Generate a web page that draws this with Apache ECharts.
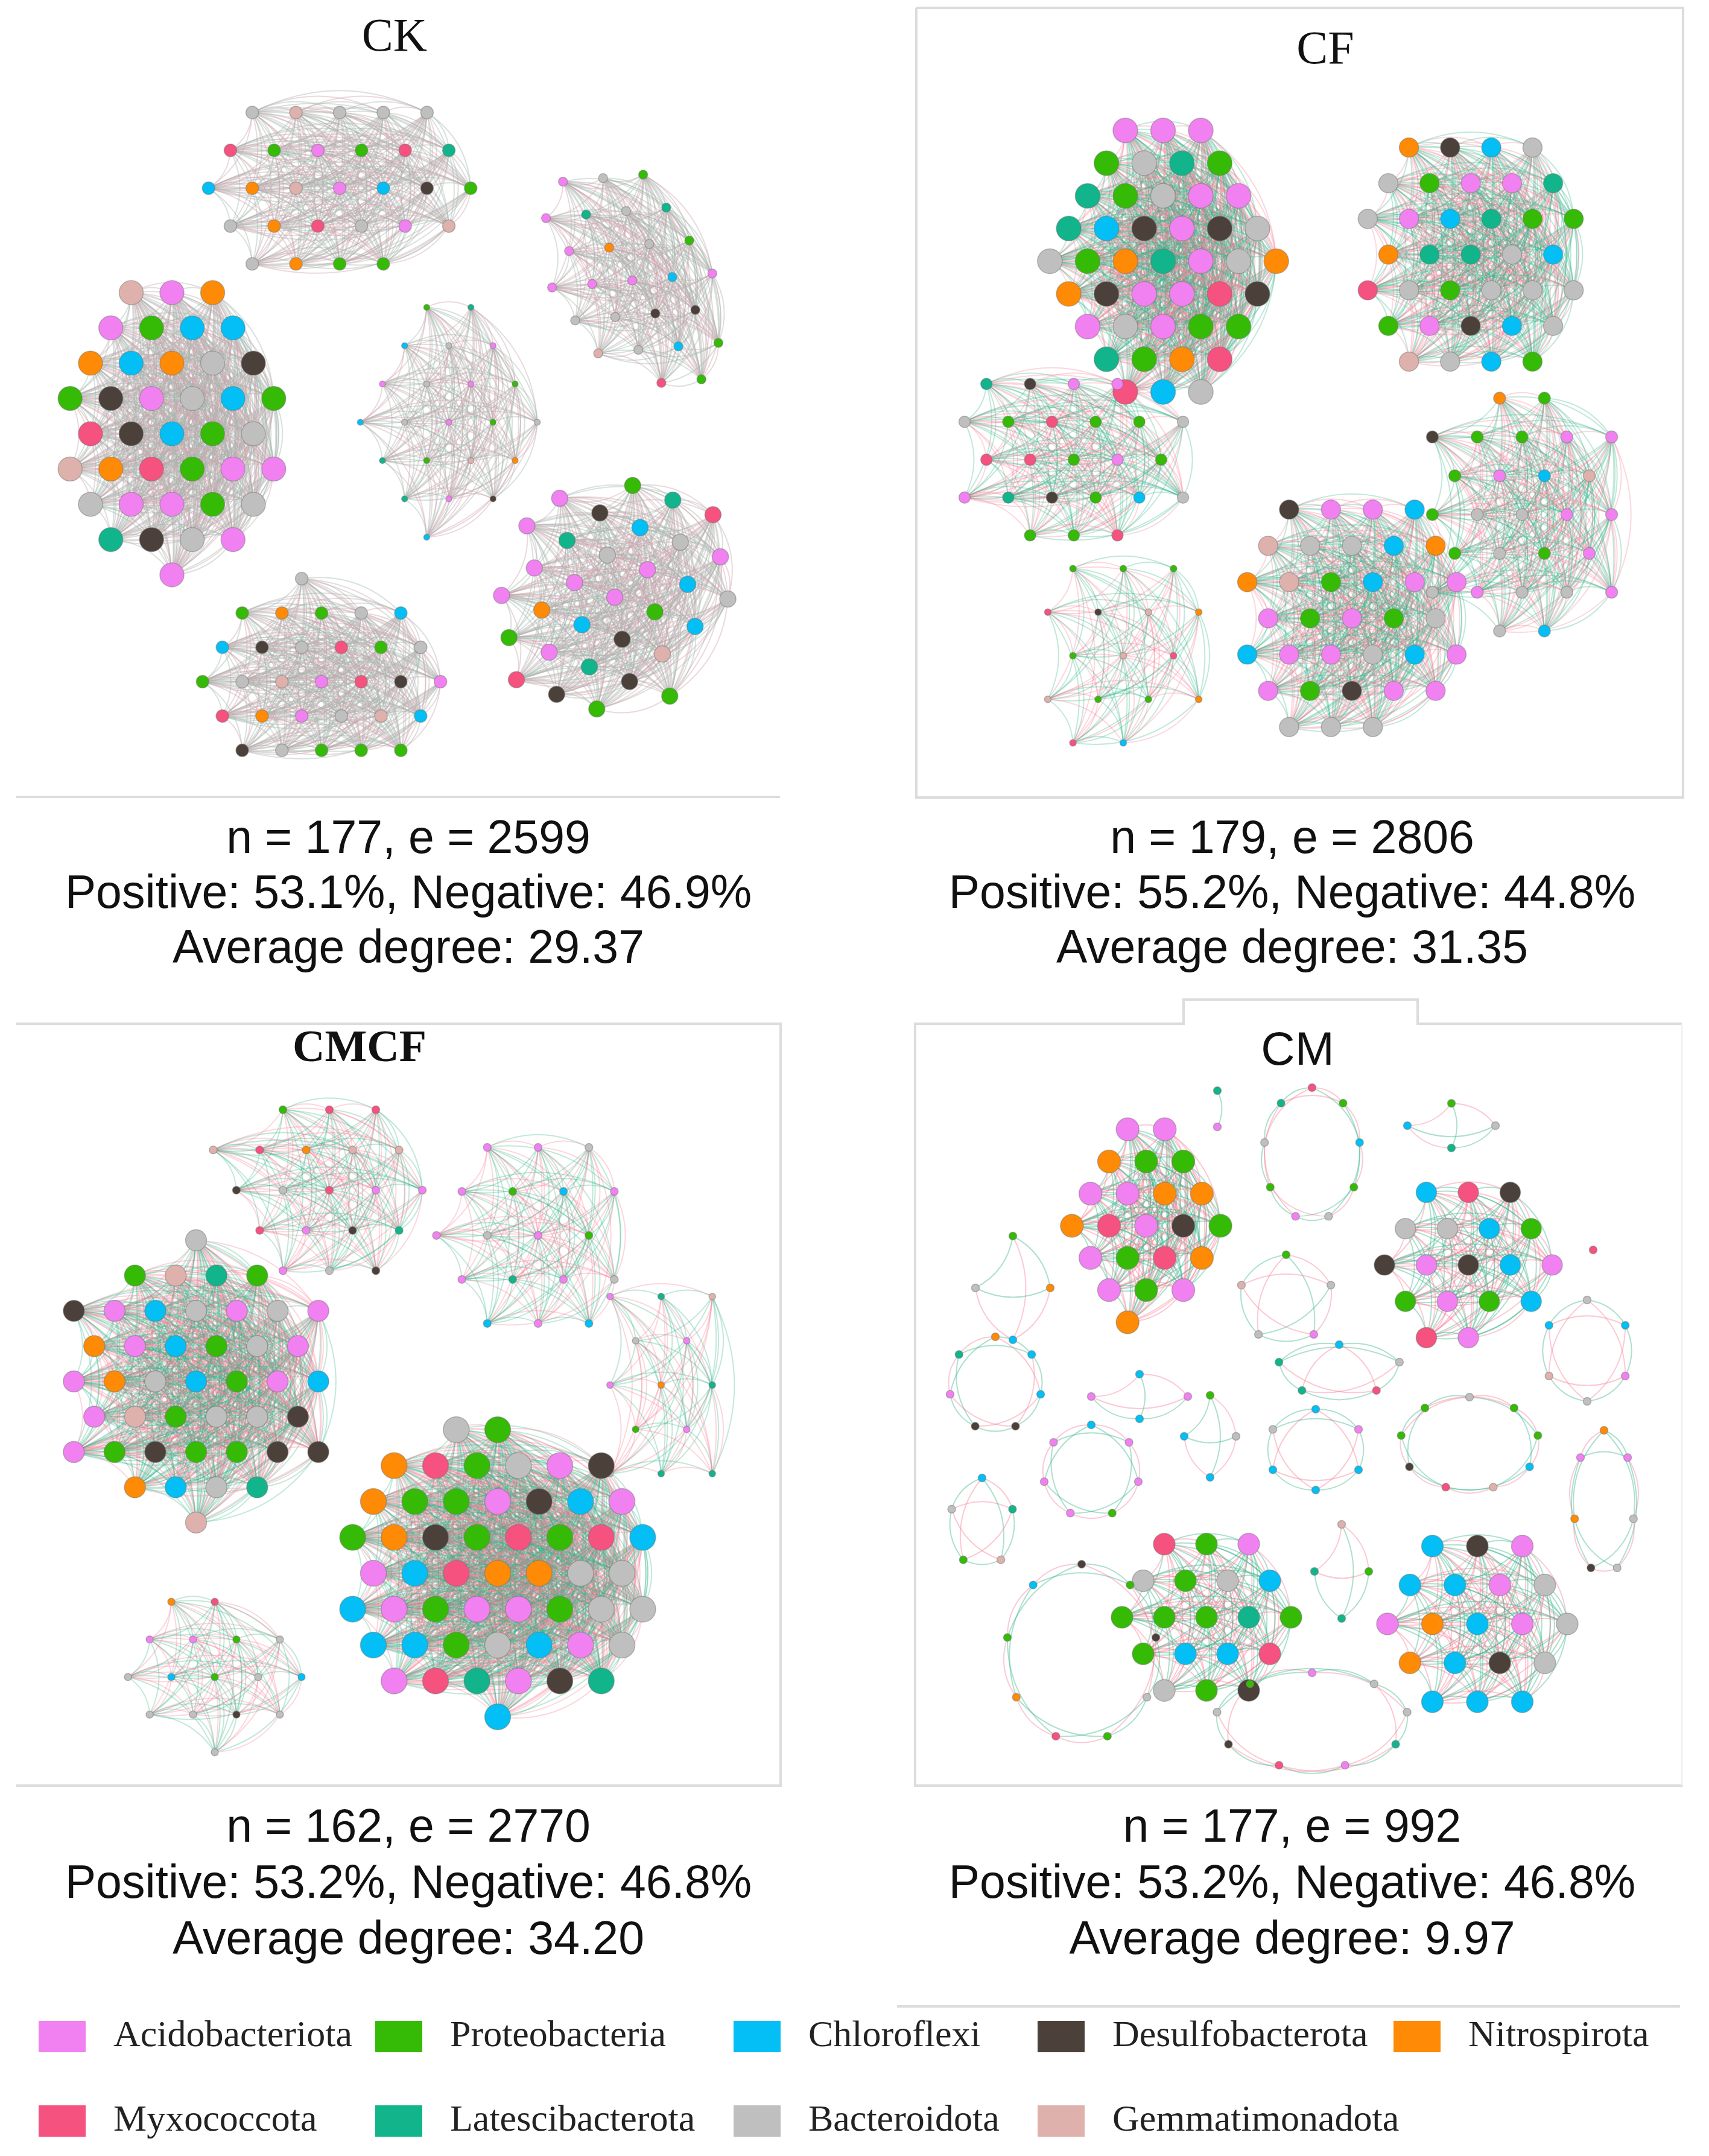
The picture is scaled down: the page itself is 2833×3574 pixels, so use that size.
<!DOCTYPE html>
<html>
<head>
<meta charset="utf-8">
<title>Co-occurrence networks</title>
<script src="https://cdn.jsdelivr.net/npm/echarts@6/dist/echarts.min.js"></script>
<style>
  html, body { margin: 0; padding: 0; background: #fff; }
  #main { width: 2833px; height: 3574px; }
</style>
</head>
<body>
<div id="main"></div>
<script>
// phyla (legend order) and the one-letter codes used in the module strings
const phyla = ['Acidobacteriota', 'Proteobacteria', 'Chloroflexi', 'Desulfobacterota', 'Nitrospirota',
               'Myxococcota', 'Latescibacterota', 'Bacteroidota', 'Gemmatimonadota'];
const phylumCodes = ['A', 'P', 'C', 'D', 'N', 'M', 'L', 'B', 'G'];

// network statistics printed under each panel
const panelNames = ['CK', 'CF', 'CMCF', 'CM'];
const nodeTotals = [177, 179, 162, 177];
const edgeTotals = [2599, 2806, 2770, 992];
const positivePct = ['53.1', '55.2', '53.2', '53.2'];
const negativePct = ['46.9', '44.8', '46.8', '46.8'];
const averageDegree = ['29.37', '31.35', '34.20', '9.97'];

// module members (phylum codes)
const ckModules = [
  'BGBBBMPAPMLCNGACDPBNMBAGBNPP',
  'GANAPCCNCNBDPDABCPMDCPBGNMPAABAAPBLDBAA',
  'PLCBAABAPCBAPBLPGNLADC',
  'PBALBLAPBNAACAAADDBBPCBGPM',
  'PALDMACLBBAAAACAABNPCCPDAGLMDDPP',
  'BPNPBCCDBMPBPBGAMDAMNABGCDBPPP'
];
const cfModules = [
  'AAAPBLPLPBAALCDADBBPNLABNNDAAMDABAPPLPNMMCB',
  'NDCBBPAALBACLPPNLLBCMBPBBBPADCBGBCP',
  'LDAABPMPPBMMPAPALDPCBPPM',
  'PPPMDGNPGMGPPNMC',
  'DAACGBBCNNGPCAAAPAPBCAABCAAPDAABBB',
  'NPDPPAAPACGPBBAAPBPABABBABC'
];
const cmcfModules = [
  'PMMGMNGGDBMAAMADLABD',
  'AABAPCAABAPALABCAC',
  'ALGBAANLPABLL',
  'BPGLPDACBABANACPBAANBCPACAGPBBDAPDPPDDNCBLG',
  'BPNMPBADNPPADCAPNDPMPMCACMNNBBCAPAAPBBCCPBCABAMLADLC',
  'NMAAPBBCPBCBBDBB'
];
const cmModules = [
  'AANPPAANNNMADPAPMNAPAN',
  'CMDBBCPDADCAPAPCMA',
  'MPABPBCPPPLPPCCMBPD',
  'CDACCABANCABNCDBCCC',
  // small satellite modules
  'MPCPBAPBL', 'LA', 'PBLC', 'PNCB', 'NCCDDAL', 'CACA', 'PBABG', 'CBMLL', 'CAAPAAA',
  'PBCC', 'CACCCB', 'BPPCGMDPP', 'BCABGC', 'NABBDNA', 'CLGPB', 'DPDBPMNPC', 'GPLL',
  'ABBLAMDBP', 'M'
];

// ---- styling / placement (not data) ----
const phylumColors = ['#f181f1', '#35bb06', '#03bff5', '#4b403a', '#ff8a05',
                      '#f5527f', '#12b48c', '#bfbfbf', '#dfb1ac'];
// [cx, cy, rx, ry, rotation deg, node diameter] in page pixels
const ckLayout = [
  [563, 312, 245, 170, 0, 21], [285, 719, 206, 271, 0, 40], [744, 700, 177, 200, 0, 10],
  [1048, 465, 235, 150, 55, 15], [1019, 990, 240, 200, -40, 27], [533, 1130, 245, 183, 0, 21]
];
const cfLayout = [
  [1928, 433, 226, 248, 0, 41], [2438, 422, 203, 228, 0, 32], [1780, 762, 207, 194, 0, 19],
  [1862, 1087, 165, 175, 0, 11], [2241, 1025, 203, 233, 0, 32], [2523, 853, 198, 220, 0, 20]
];
const cmcfLayout = [
  [546, 1973, 217, 172, 0, 13], [892, 2048, 175, 175, 0, 13], [1096, 2296, 133, 202, 0, 11],
  [325, 2290, 250, 256, 0, 35], [825, 2608, 271, 269, 0, 43], [356, 2780, 202, 140, 0, 12]
];
const cmLayout = [
  [1900, 2032, 178, 182, 0, 38], [2434, 2097, 156, 156, 0, 34],
  [2000, 2681, 158, 172, 0, 36], [2449, 2692, 167, 170, 0, 36],
  [2175, 1913, 80, 110, 0, 13], [2018, 1838, 30, 30, 0, 13], [2406, 1866, 73, 37, 0, 13],
  [1679, 2135, 62, 86, 0, 13], [1650, 2294, 77, 78, 0, 13], [1889, 2315, 80, 37, 0, 13],
  [2132, 2153, 78, 73, 0, 13], [2220, 2271, 105, 42, 0, 13], [1809, 2439, 80, 77, 0, 13],
  [2006, 2381, 43, 68, 0, 13], [2181, 2403, 82, 67, 0, 13], [2436, 2393, 115, 77, 0, 13],
  [2631, 2239, 73, 84, 0, 13], [2659, 2491, 50, 120, 0, 13], [1628, 2525, 53, 75, 0, 13],
  [1793, 2740, 125, 147, 0, 13], [2224, 2605, 45, 78, 0, 13], [2175, 2852, 160, 79, 0, 13],
  [2641, 2072, 0, 0, 0, 13]
];
const edgeStyle = [
  { pos: '#a3b8ae', neg: '#cda4ad', opacity: 0.42 },
  { pos: '#33b287', neg: '#f47a92', opacity: 0.3 },
  { pos: '#33b287', neg: '#f47a92', opacity: 0.3 },
  { pos: '#33b287', neg: '#f47a92', opacity: 0.4 }
];

// hexagonal slots filling an ellipse, nearest-to-centre first, stretched to the rim
function hexSlots(n, rx, ry) {
  let s = 1.4 * Math.sqrt(Math.PI * rx * ry / (n * 0.866));
  let pts = [];
  for (let k = 0; k < 300; k++) {
    pts = [];
    const h = s * Math.sqrt(3) / 2;
    const rows = Math.floor(ry / h);
    const cols = Math.ceil(rx / s) + 1;
    for (let r = -rows; r <= rows; r++) {
      const y = r * h;
      const odd = Math.abs(r) % 2 === 1;
      for (let c = -cols - 1; c <= cols; c++) {
        const x = odd ? (c + 0.5) * s : c * s;
        const d = (x / rx) * (x / rx) + (y / ry) * (y / ry);
        if (d <= 1.0001) pts.push({ x: x, y: y, d: d });
      }
    }
    if (pts.length >= n) break;
    s *= 0.985;
  }
  pts.sort((a, b) => a.d - b.d);
  pts = pts.slice(0, n);
  const maxD = Math.max.apply(null, pts.map(p => p.d)) || 1;
  const k = 1 / Math.sqrt(maxD);
  return pts.map(p => ({ x: p.x * k, y: p.y * k }));
}

function placeModule(n, lay, ring) {
  const [cx, cy, rx, ry, rot, size] = lay;
  let pts;
  if (ring) {
    pts = [];
    for (let i = 0; i < n; i++) {
      const a = -Math.PI / 2 + i * 2 * Math.PI / n;
      pts.push(n === 1 ? { x: 0, y: 0 } : { x: rx * Math.cos(a), y: ry * Math.sin(a) });
    }
  } else {
    pts = hexSlots(n, rx - size / 2, ry - size / 2);
  }
  const t = rot * Math.PI / 180;
  const placed = pts.map(p => ({
    x: cx + p.x * Math.cos(t) - p.y * Math.sin(t),
    y: cy + p.x * Math.sin(t) + p.y * Math.cos(t)
  }));
  if (!ring) placed.sort((a, b) => (Math.round(a.y) - Math.round(b.y)) || (a.x - b.x));
  return placed;
}

function buildPanel(p, modules, layouts, ringFrom) {
  const nodes = [];
  const links = [];
  modules.forEach((codes, m) => {
    const ring = m >= ringFrom;
    const members = codes.split('');
    const n = members.length;
    const pos = placeModule(n, layouts[m], ring);
    const start = nodes.length;
    members.forEach((c, i) => {
      nodes.push({
        value: [pos[i].x, pos[i].y],
        category: phylumCodes.indexOf(c),
        symbolSize: layouts[m][5]
      });
    });
    if (!ring || n <= 4) {
      // dense modules are fully connected clusters
      for (let i = 0; i < n; i++) {
        for (let j = i + 1; j < n; j++) links.push({ source: start + i, target: start + j });
      }
    } else {
      // small satellite modules: each node tied to its two nearest neighbours on either side
      for (let i = 0; i < n; i++) {
        links.push({ source: start + i, target: start + (i + 1) % n });
        links.push({ source: start + i, target: start + (i + 2) % n });
      }
    }
  });
  // spread positive / negative edges evenly at the stated share
  const share = parseFloat(positivePct[p]) / 100;
  links.forEach((l, k) => {
    const positive = Math.floor((k + 1) * share) > Math.floor(k * share);
    l.lineStyle = { color: positive ? edgeStyle[p].pos : edgeStyle[p].neg };
  });
  return {
    type: 'graph',
    name: panelNames[p],
    coordinateSystem: 'cartesian2d',
    xAxisIndex: 0,
    yAxisIndex: 0,
    silent: true,
    categories: phyla.map((name, i) => ({ name: name, itemStyle: { color: phylumColors[i] } })),
    data: nodes,
    links: links,
    itemStyle: { borderColor: 'rgba(110,110,110,0.45)', borderWidth: 1.5 },
    lineStyle: { width: 2, opacity: edgeStyle[p].opacity, curveness: 0.25 },
    label: { show: false },
    emphasis: { disabled: true }
  };
}

const series = [
  buildPanel(0, ckModules, ckLayout, 99),
  buildPanel(1, cfModules, cfLayout, 99),
  buildPanel(2, cmcfModules, cmcfLayout, 99),
  buildPanel(3, cmModules, cmLayout, 4)
];

// ---- texts and frames ----
const statX = [677, 2142, 677, 2142];
const statY = [[1393, 1484, 1575], [1393, 1484, 1575], [3032, 3125, 3218], [3032, 3125, 3218]];
const titlePos = [[654, 64], [2197, 85], [596, 1740], [2151, 1743]];
const titleFont = [
  'normal 78px "Liberation Serif"', 'normal 78px "Liberation Serif"',
  'bold 74px "Liberation Serif"', 'normal 78px "Liberation Sans"'
];
const frameColor = '#dcdcdc';

const graphics = [];
panelNames.forEach((name, p) => {
  graphics.push({
    type: 'text', x: titlePos[p][0], y: titlePos[p][1], z: 10,
    style: { text: name, font: titleFont[p], fill: '#111', align: 'center', verticalAlign: 'middle' }
  });
  const lines = [
    'n = ' + nodeTotals[p] + ', e = ' + edgeTotals[p],
    'Positive: ' + positivePct[p] + '%, Negative: ' + negativePct[p] + '%',
    'Average degree: ' + averageDegree[p]
  ];
  lines.forEach((t, i) => {
    graphics.push({
      type: 'text', x: statX[p], y: statY[p][i], z: 10,
      style: { text: t, font: '77px "Liberation Sans"', fill: '#111', align: 'center', verticalAlign: 'middle' }
    });
  });
});
const framePaths = [
  [[27, 1321], [1293, 1321]],
  [[1519, 13], [2790, 13], [2790, 1322], [1519, 1322], [1519, 13]],
  [[27, 1697], [1294, 1697], [1294, 2960], [27, 2960]],
  [[2788, 1697], [2350, 1697], [2350, 1657], [1962, 1657], [1962, 1697], [1517, 1697], [1517, 2960], [2790, 2960]],
  [[1487, 3326], [2785, 3326]]
];
framePaths.forEach(pts => {
  graphics.push({
    type: 'polyline', z: 1, silent: true,
    shape: { points: pts },
    style: { stroke: frameColor, lineWidth: 4, fill: null }
  });
});
graphics.push({
  type: 'polyline', z: 1, silent: true,
  shape: { points: [[2788, 1697], [2788, 2960]] },
  style: { stroke: '#f1f1f1', lineWidth: 3, fill: null }
});

// legend laid out as five columns of two rows
const legendColumns = [
  ['Acidobacteriota', 'Myxococcota'], ['Proteobacteria', 'Latescibacterota'],
  ['Chloroflexi', 'Bacteroidota'], ['Desulfobacterota', 'Gemmatimonadota'], ['Nitrospirota']
];
const legendLeft = [64, 622, 1216, 1720, 2310];

const chart = echarts.init(document.getElementById('main'));
chart.setOption({
  backgroundColor: '#ffffff',
  animation: false,
  grid: { left: 0, right: 0, top: 0, bottom: 0 },
  xAxis: { type: 'value', min: 0, max: 2833, show: false },
  yAxis: { type: 'value', min: 0, max: 3574, inverse: true, show: false },
  legend: legendColumns.map((names, i) => ({
    data: names,
    orient: 'vertical',
    left: legendLeft[i],
    top: 3345,
    padding: 0,
    icon: 'rect',
    itemWidth: 78,
    itemHeight: 52,
    itemGap: 78,
    selectedMode: false,
    itemStyle: { borderWidth: 0 },
    textStyle: {
      fontFamily: 'Liberation Serif', fontSize: 62, color: '#222',
      lineHeight: 52, padding: [0, 0, 0, 41]
    }
  })),
  graphic: graphics,
  series: series
});
</script>
</body>
</html>
